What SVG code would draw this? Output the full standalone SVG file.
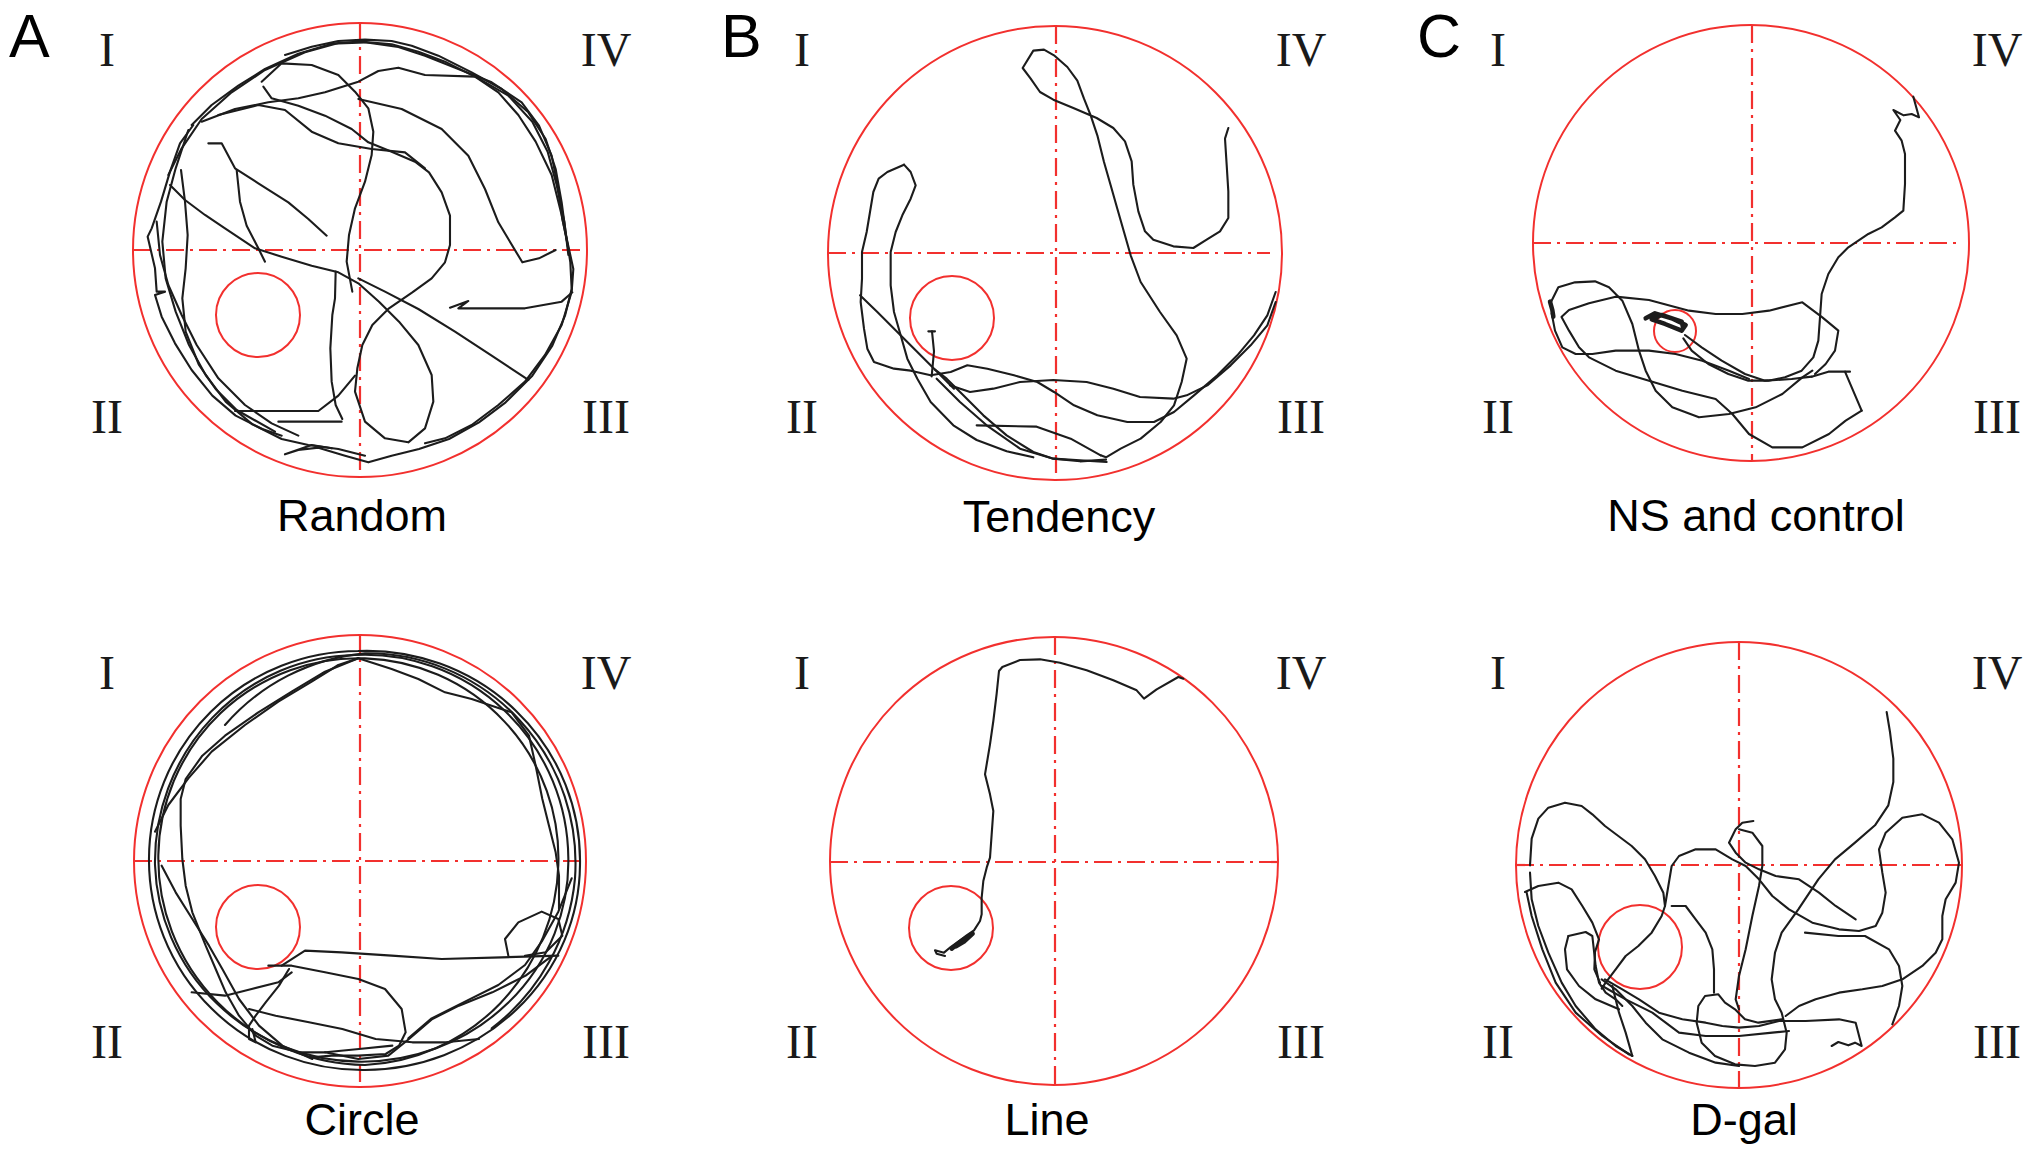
<svg xmlns="http://www.w3.org/2000/svg" width="2031" height="1156" viewBox="0 0 2031 1156">
<style>
.arena{fill:none;stroke:#f2302e;stroke-width:2}
.target{fill:none;stroke:#f2302e;stroke-width:2}
.axis{stroke:#f2302e;stroke-width:2.2;stroke-dasharray:18 6 3 6;fill:none}
.trk{fill:none;stroke:#1c1c1c;stroke-width:2.1;stroke-linejoin:round;stroke-linecap:round}
.trk polyline,.trk path{vector-effect:non-scaling-stroke}
.thick polyline{stroke-width:4.5}
.quad{font-family:"Liberation Serif","Times New Roman",serif;font-size:48px;fill:#1a1a1a;text-anchor:middle}
.letter{font-family:"Liberation Sans",Arial,sans-serif;font-size:61px;fill:#000}
.title{font-family:"Liberation Sans",Arial,sans-serif;font-size:45px;fill:#000;text-anchor:middle}
</style>
<rect width="2031" height="1156" fill="#fff"/>

<text class="letter" x="9" y="57">A</text>
<text class="letter" x="721" y="57">B</text>
<text class="letter" x="1417" y="57">C</text>

<!-- Panel A top: Random -->
<g id="panel-random">
<circle class="arena" cx="360" cy="250" r="227"/>
<line class="axis" x1="360" y1="23" x2="360" y2="477"/>
<line class="axis" x1="133" y1="250" x2="587" y2="250"/>
<circle class="target" cx="258" cy="315" r="42"/>
<g class="trk" transform="translate(125,15) scale(0.33333)">
<polyline points="480,120 560,95 640,78 720,74 800,78 860,92 940,122 1040,172 1130,222 1210,292 1262,372 1292,462 1310,562 1322,652 1336,742 1340,822 1320,902 1282,992 1222,1082 1142,1162 1062,1222 972,1272 882,1302 800,1322 730,1342 660,1322 580,1298 520,1305 480,1318 560,1290 620,1300"/>
<polyline points="200,330 260,270 340,212 420,162 520,116 620,86 720,82 820,96 900,122 1000,162 1100,202 1190,262 1242,332 1280,422 1300,522 1312,612 1332,702 1345,762 1340,830 1310,930 1260,1020 1200,1100 1120,1170 1040,1230 960,1270 900,1285"/>
<polyline points="130,480 170,400 230,312 320,232 420,165 540,112 640,84 706,80 800,88 880,110 960,140 1060,190 1150,242 1222,320 1268,410 1295,510 1318,620 1330,720"/>
<polyline points="205,330 165,385 135,470 108,560 80,640 68,665 90,760 95,830 120,830 90,840 110,905 150,985 200,1065 262,1142 332,1202 412,1242 470,1262"/>
<polyline points="190,345 152,460 125,560 112,680 122,790 152,890 192,990 242,1080 302,1160 382,1228 470,1272 550,1290 640,1302 720,1322"/>
<polyline points="95,620 105,720 130,810 170,900 215,990 280,1090 360,1170 440,1225 520,1262"/>
<polyline points="168,465 180,560 188,660 182,760 172,850 182,950 222,1050 272,1122 335,1185 450,1250"/>
<polyline points="410,200 470,145 560,150 640,180 690,230 730,280 745,350 740,420 720,500 690,580 672,660 665,740 682,830"/>
<polyline points="415,215 440,250 520,272 600,302 680,342 730,382 800,410 870,440 912,472 950,532 975,602 975,690 960,742 920,790 862,832 792,880 742,930 712,990 697,1060 690,1130 720,1220 780,1270 850,1282 900,1240 925,1160 920,1080 880,990 822,920 762,860 700,805 640,772 560,752 470,725 390,700 300,640 240,600 180,555 135,510"/>
<polyline points="632,770 630,850 622,900 616,1000 620,1100 632,1170 652,1212"/>
<polyline points="330,1188 580,1188 640,1142 690,1082"/>
<polyline points="460,1220 650,1220"/>
<polyline points="250,385 290,385 330,460 400,505 490,562 550,612 605,662"/>
<polyline points="335,465 345,560 365,632 400,700 420,740"/>
<polyline points="700,790 780,830 880,882 990,950 1100,1022 1210,1095"/>
<polyline points="975,878 1030,858 1000,880 1200,880 1310,860 1342,832"/>
<polyline points="700,252 830,282 950,342 1030,422 1080,522 1120,622 1192,742 1242,730 1292,705"/>
<polyline points="230,320 330,282 430,262 520,250 600,232 700,200 760,168 820,158 900,180 1050,185 1120,232 1180,300 1232,380 1280,480 1310,600 1330,700"/>
<polyline points="280,300 400,270 480,285 560,350 640,385 740,402 840,412 900,460"/>
</g>
<text class="quad" x="107" y="66">I</text>
<text class="quad" x="606" y="66">IV</text>
<text class="quad" x="107" y="433">II</text>
<text class="quad" x="606" y="433">III</text>
<text class="title" x="362" y="531">Random</text>
</g>

<!-- Panel B top: Tendency -->
<g id="panel-tendency">
<circle class="arena" cx="1055" cy="253" r="227"/>
<line class="axis" x1="1056" y1="26" x2="1056" y2="480"/>
<line class="axis" x1="828" y1="253" x2="1270" y2="253"/>
<circle class="target" cx="952" cy="318" r="42"/>
<g class="trk" transform="translate(820,18) scale(0.33333)">
<polyline points="1225,330 1215,362 1220,440 1225,520 1225,600 1200,640 1160,665 1120,690 1060,685 1000,665 975,640 955,580 940,500 935,430 915,370 880,330 830,300 760,270 700,245 660,222 632,182 608,150 640,98 672,95 702,112 742,147 772,188 792,242 812,292 832,352 852,432 872,502 892,572 912,642 932,712 962,792 1020,882 1070,952 1100,1022 1085,1092 1062,1162 1022,1212 962,1262 902,1292 858,1318 842,1312"/>
<polyline points="858,1325 780,1330 700,1322 640,1302 560,1252 490,1192 430,1132 380,1082 345,1055"/>
<polyline points="350,1082 420,1152 500,1222 600,1292 700,1322 860,1332"/>
<polyline points="470,1222 650,1226 752,1262 842,1312"/>
<polyline points="252,440 272,462 287,502 272,542 247,592 227,642 212,702 212,802 222,882 242,952 262,1022 292,1082 332,1152 400,1222 470,1266 560,1300 640,1318"/>
<polyline points="252,440 202,462 176,482 160,522 150,582 140,642 126,702 126,782 122,852 132,932 142,992 162,1032 222,1052 272,1058 332,1072 392,1062 442,1042 502,1052 582,1072 652,1092 702,1122 762,1162 832,1192 922,1212 1002,1212 1062,1182 1122,1132 1192,1072 1252,1012 1302,952 1342,892 1367,822"/>
<polyline points="120,832 172,882 232,942 292,1002 352,1062 402,1112"/>
<polyline points="390,1102 450,1122 520,1112 600,1092 700,1086 800,1092 880,1112 960,1137 1060,1142 1100,1132 1162,1102 1232,1042 1292,982 1342,922 1367,852"/>
<polyline points="325,940 345,940"/>
<polyline points="336,940 342,1000 335,1075"/>
</g>
<text class="quad" x="802" y="66">I</text>
<text class="quad" x="1301" y="66">IV</text>
<text class="quad" x="802" y="433">II</text>
<text class="quad" x="1301" y="433">III</text>
<text class="title" x="1059" y="532">Tendency</text>
</g>

<!-- Panel C top: NS and control -->
<g id="panel-ns-control">
<circle class="arena" cx="1751" cy="243" r="218"/>
<line class="axis" x1="1752" y1="25" x2="1752" y2="461"/>
<line class="axis" x1="1533" y1="243" x2="1960" y2="243"/>
<circle class="target" cx="1675" cy="331" r="21"/>
<g class="trk" transform="translate(1515,10) scale(0.33333)">
<polyline points="1195,260 1212,322 1190,312 1166,316 1135,300 1156,330 1140,362 1160,392 1170,432 1170,522 1165,602 1140,622 1100,652 1060,672 1030,692 1000,712 970,742 940,792 920,852 915,922 910,992 895,1042 860,1082 810,1102 760,1112 700,1112 640,1092 580,1062 530,1022 505,985"/>
<polyline points="890,1100 940,1085 1005,1085"/>
<polyline points="990,1085 1040,1202"/>
<polyline points="140,920 162,900 222,880 302,860 402,870 522,902 602,912 682,912 762,902 862,877 922,922 970,962 960,1022 932,1062 900,1092"/>
<polyline points="105,882 130,832 180,817 240,814 282,832 322,872 352,942 372,1022 392,1082 422,1142 472,1192 552,1222 642,1212 722,1192 802,1152 862,1102 892,1082"/>
<polyline points="110,910 120,962 142,1012 182,1032 232,1032 302,1022 402,1022 482,1032 562,1052 642,1082 702,1107"/>
<polyline points="140,922 162,962 192,1012 222,1042 302,1082 402,1112 502,1142 602,1167 652,1212 702,1272 772,1312 862,1312 942,1272 992,1232 1040,1202"/>
<polyline points="510,975 560,1012 620,1052 690,1092 750,1112 830,1107 890,1100"/>
</g>
<g class="trk thick" transform="translate(1515,10) scale(0.33333)">
<polyline points="392,925 420,910 470,925 512,945 500,962 450,942 410,928 440,915 500,935 505,955"/>
<polyline points="105,875 112,900 115,920"/>
</g>
<text class="quad" x="1498" y="66">I</text>
<text class="quad" x="1997" y="66">IV</text>
<text class="quad" x="1498" y="433">II</text>
<text class="quad" x="1997" y="433">III</text>
<text class="title" x="1756" y="531">NS and control</text>
</g>

<!-- Panel A bottom: Circle -->
<g id="panel-circle">
<circle class="arena" cx="360" cy="861" r="226"/>
<line class="axis" x1="360" y1="635" x2="360" y2="1087"/>
<line class="axis" x1="134" y1="861" x2="586" y2="861"/>
<circle class="target" cx="258" cy="927" r="42"/>
<g class="trk" transform="translate(125,625) scale(0.33333)">
<path d="M700,78 A640,630 0 0 1 1365,720 A650,620 0 0 1 720,1335 A640,630 0 0 1 72,700 A630,625 0 0 1 700,78"/>
<path d="M690,90 A610,615 0 0 1 1330,700 A620,600 0 0 1 700,1310 A620,610 0 0 1 90,720 A610,620 0 0 1 690,90"/>
<path d="M720,100 A600,600 0 0 1 1300,720 A610,620 0 0 1 720,1320 A630,620 0 0 1 100,690 A600,600 0 0 1 720,100"/>
<path d="M300,300 A630,625 0 0 1 720,85 A625,630 0 0 1 1350,760 A640,640 0 0 1 1100,1210"/>
<polyline points="700,100 600,140 500,200 400,262 300,332 232,392 182,462 167,522 167,602 172,702 182,782 202,862 242,962 272,1032 302,1102 342,1172 392,1232 442,1262 522,1282 602,1282 702,1272 802,1262"/>
<polyline points="700,100 800,132 880,162 960,202 1040,222 1100,242 1160,262 1212,332 1232,422 1252,522 1272,602 1292,682 1302,752 1302,852"/>
<polyline points="470,1022 540,977 650,982 800,992 950,1002 1130,997 1300,992"/>
<polyline points="1150,992 1140,942 1180,892 1250,860 1300,882 1312,932 1262,982 1200,992"/>
<polyline points="430,1022 500,1022 600,1042 700,1062 780,1092 830,1152 842,1222 822,1262 782,1287 700,1292 620,1292 560,1297"/>
<polyline points="492,1032 462,1082 422,1132 392,1172 372,1202 372,1242 392,1252 382,1212"/>
<polyline points="200,1102 300,1112 380,1092 460,1072 500,1042"/>
<polyline points="372,1152 452,1172 552,1192 652,1212 752,1242 862,1252 962,1252 1062,1242"/>
<polyline points="600,1282 700,1302 790,1292 852,1242 922,1182 1002,1142 1102,1102 1202,1052 1282,992"/>
<polyline points="110,722 152,802 202,882 252,962 292,1032 342,1122 402,1202 472,1262 562,1302"/>
<polyline points="90,620 130,540 190,460 260,380 360,300 460,230 560,170 640,120 700,100"/>
<polyline points="1340,760 1300,860 1250,950 1200,1020 1120,1080 1020,1130 920,1180 850,1240"/>
</g>
<text class="quad" x="107" y="689">I</text>
<text class="quad" x="606" y="689">IV</text>
<text class="quad" x="107" y="1058">II</text>
<text class="quad" x="606" y="1058">III</text>
<text class="title" x="362" y="1135">Circle</text>
</g>

<!-- Panel B bottom: Line -->
<g id="panel-line">
<circle class="arena" cx="1054" cy="861" r="224"/>
<line class="axis" x1="1055" y1="637" x2="1055" y2="1085"/>
<line class="axis" x1="830" y1="862" x2="1278" y2="862"/>
<circle class="target" cx="951" cy="928" r="42"/>
<g class="trk" transform="translate(820,627) scale(0.33333)">
<polyline points="1090,155 1075,150 1010,187 972,215 950,190 880,160 800,130 720,107 660,97 600,99 547,120 537,132 530,200 520,282 510,352 495,442 510,502 520,552 515,622 510,692 500,722 490,762 485,812 485,862 480,882 462,910 440,925 420,940 392,960 372,977 345,970 350,980 375,987"/>
</g>
<g class="trk thick" transform="translate(820,627) scale(0.33333)">
<polyline points="395,965 420,945 440,932 458,920 432,944 408,958"/>
</g>
<text class="quad" x="802" y="689">I</text>
<text class="quad" x="1301" y="689">IV</text>
<text class="quad" x="802" y="1058">II</text>
<text class="quad" x="1301" y="1058">III</text>
<text class="title" x="1047" y="1135">Line</text>
</g>

<!-- Panel C bottom: D-gal -->
<g id="panel-dgal">
<circle class="arena" cx="1739" cy="865" r="223"/>
<line class="axis" x1="1739" y1="642" x2="1739" y2="1088"/>
<line class="axis" x1="1516" y1="865" x2="1962" y2="865"/>
<circle class="target" cx="1640" cy="947" r="42"/>
<g class="trk" transform="translate(1505,632) scale(0.33333)">
<polyline points="1145,240 1155,300 1165,380 1165,450 1150,520 1110,580 1050,632 990,682 940,742 880,832 830,902 810,962 800,1042 810,1102 830,1142 845,1202 840,1252 810,1292 750,1302 690,1297 630,1272 590,1232 575,1172 580,1122 600,1092 640,1087 660,1112 690,1132 720,1162 760,1172 830,1162"/>
<polyline points="75,700 80,620 100,560 130,527 180,512 230,522 262,547 300,582 340,612 380,642 420,682 450,732 475,782 480,822 470,852 440,902 400,942 362,972 332,1012 302,1052 290,1070"/>
<polyline points="60,780 100,762 160,752 200,772 232,822 262,872 282,922 270,960 268,1012 285,1052"/>
<polyline points="75,722 80,802 100,882 130,962 170,1052 212,1122 272,1192 332,1242 382,1272"/>
<polyline points="65,782 80,852 112,952 152,1052 212,1142 292,1212 372,1267"/>
<polyline points="190,912 242,900 262,912 272,1002 282,1052 302,1082 332,1102 352,1122"/>
<polyline points="190,912 180,952 186,1012 222,1062 272,1102 342,1132"/>
<polyline points="300,1042 352,1072 402,1102 462,1142 532,1162 602,1172 652,1182 702,1187 762,1182 822,1167 902,1167 1002,1162 1052,1172 1070,1242 1050,1232 1030,1240 1000,1230 980,1242"/>
<polyline points="745,567 712,572 692,592 672,632 692,662 722,692 762,712 812,732 882,742 942,782 992,822 1052,862"/>
<polyline points="702,592 742,602 772,642 772,702 762,762 742,852 722,952 702,1032 692,1102 702,1132"/>
<polyline points="480,822 490,762 500,702 522,672 572,652 632,652 682,682 722,702 762,742 802,792 852,832 922,872 1002,892 1062,897 1112,882 1132,842 1142,782 1132,722 1122,652 1142,602 1192,557 1252,547 1302,572 1342,622 1362,692 1352,752 1322,802 1312,852 1312,922 1292,962 1252,1002 1192,1042 1132,1062 1072,1072 1002,1082 932,1102 882,1122 842,1152"/>
<polyline points="500,822 542,822 572,862 602,902 622,952 627,1012 627,1082"/>
<polyline points="900,902 1000,912 1080,912 1152,952 1182,1002 1192,1062 1182,1122 1162,1177"/>
<polyline points="290,1042 332,1072 382,1122 422,1172 472,1222 552,1262 632,1292 702,1302"/>
<polyline points="292,1062 362,1102 442,1142 482,1172 522,1202 602,1212 702,1212 802,1202 852,1197"/>
<polyline points="322,1062 342,1142 362,1202 382,1272"/>
</g>
<text class="quad" x="1498" y="689">I</text>
<text class="quad" x="1997" y="689">IV</text>
<text class="quad" x="1498" y="1058">II</text>
<text class="quad" x="1997" y="1058">III</text>
<text class="title" x="1744" y="1135">D-gal</text>
</g>
</svg>
